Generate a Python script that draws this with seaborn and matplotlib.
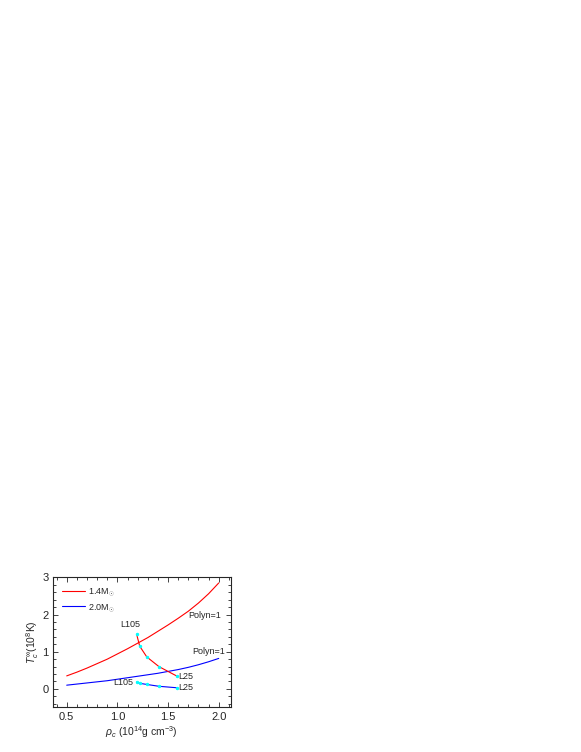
import numpy as np
import pandas as pd
import matplotlib
matplotlib.use('Agg')
import matplotlib.pyplot as plt
import seaborn as sns
from matplotlib.ticker import MultipleLocator

# Polytropic (Polyn=1) curves: T_c^inf vs central density
rho = [0.5, 0.6, 0.7, 0.8, 0.9, 1.0, 1.1, 1.2, 1.3, 1.4, 1.5, 1.6, 1.7, 1.8, 1.9, 2.0]
t_14 = [0.35, 0.45, 0.56, 0.68, 0.80, 0.94, 1.08, 1.23, 1.38, 1.55, 1.72, 1.90, 2.09, 2.31, 2.56, 2.85]
t_20 = [0.10, 0.13, 0.16, 0.19, 0.22, 0.26, 0.30, 0.34, 0.38, 0.42, 0.47, 0.52, 0.58, 0.65, 0.73, 0.82]

# EOS models L105 ... L25
rho_l14 = [1.19, 1.22, 1.29, 1.41, 1.59]
t_l14 = [1.47, 1.15, 0.86, 0.60, 0.34]
rho_l20 = [1.19, 1.22, 1.29, 1.41, 1.59]
t_l20 = [0.18, 0.15, 0.12, 0.07, 0.03]

sns.set_style("ticks")
plt.rcParams['font.family'] = ['Liberation Sans', 'DejaVu Sans']
plt.rcParams['mathtext.fontset'] = 'custom'
plt.rcParams['mathtext.rm'] = 'Liberation Sans'
plt.rcParams['mathtext.it'] = 'Liberation Sans:italic'

fig = plt.figure(figsize=(5.81, 7.52), dpi=100)
ax = fig.add_axes([0.0904, 0.0592, 0.307, 0.173])

poly = pd.DataFrame({'rho': rho, '1.4': t_14, '2.0': t_20})
sns.lineplot(data=poly, x='rho', y='1.4', ax=ax, color='red', lw=0.8,
             label=r'1.4M$_{\odot}$')
sns.lineplot(data=poly, x='rho', y='2.0', ax=ax, color='blue', lw=0.8,
             label=r'2.0M$_{\odot}$')

sns.lineplot(x=rho_l14, y=t_l14, ax=ax, color='red', lw=0.8, marker='o',
             markersize=1.7, markerfacecolor='cyan', markeredgecolor='cyan',
             legend=False)
sns.lineplot(x=rho_l20, y=t_l20, ax=ax, color='blue', lw=0.8, marker='o',
             markersize=1.7, markerfacecolor='cyan', markeredgecolor='cyan',
             legend=False)

fs = 6.5
ax.text(1.13, 1.72, 'L105', fontsize=fs, ha='center', va='center')
ax.text(1.605, 0.33, 'L25', fontsize=fs, ha='left', va='center')
ax.text(1.06, 0.16, 'L105', fontsize=fs, ha='center', va='center')
ax.text(1.605, 0.03, 'L25', fontsize=fs, ha='left', va='center')
ax.text(1.86, 1.98, 'Polyn=1', fontsize=fs, ha='center', va='center')
ax.text(1.90, 1.00, 'Polyn=1', fontsize=fs, ha='center', va='center')

ax.set_xlim(0.36, 2.12)
ax.set_ylim(-0.5, 3)
ax.xaxis.set_major_locator(MultipleLocator(0.5))
ax.xaxis.set_minor_locator(MultipleLocator(0.1))
ax.yaxis.set_major_locator(MultipleLocator(1))
ax.yaxis.set_minor_locator(MultipleLocator(0.2))
ax.tick_params(which='both', direction='in', top=True, right=True,
               width=0.6, labelsize=8, pad=3)
ax.tick_params(which='major', length=3.5)
ax.tick_params(which='minor', length=2)
for s in ax.spines.values():
    s.set_linewidth(0.8)

ax.set_xlabel(r'$\it{\rho}_{c}$ (10$^{14}$g cm$^{-3}$)', fontsize=7.5, labelpad=2)
ax.set_ylabel(r'$\it{T}_{c}^{\infty}$(10$^{8}$K)', fontsize=7.5, labelpad=1)

ax.legend(loc='upper left', fontsize=6.5, frameon=False, handlelength=2.6,
          borderaxespad=0.6, labelspacing=0.35, handletextpad=0.3)

fig.savefig('out.png', dpi=100)
